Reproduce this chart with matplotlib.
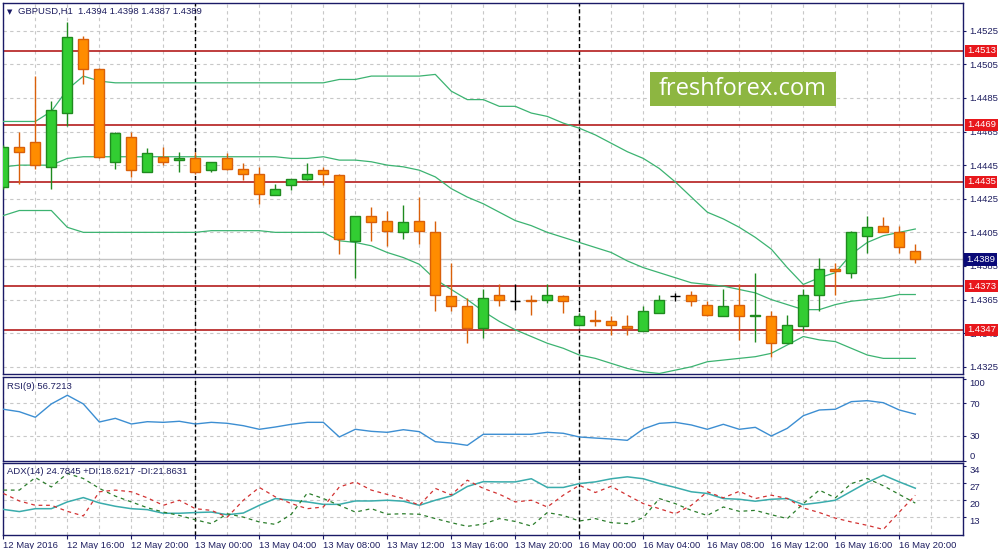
import matplotlib
matplotlib.use("Agg")
import matplotlib.pyplot as plt
import numpy as np
from matplotlib.patches import Rectangle

plt.rcParams['font.family'] = ['Liberation Sans', 'DejaVu Sans']

# ---------------- data ----------------
symbol = "GBPUSD,H1"
opens = [1.4432, 1.4456, 1.4459, 1.4444, 1.4476, 1.4520, 1.4502, 1.4447, 1.4462, 1.4441,
         1.4450, 1.4448, 1.4449, 1.4442, 1.4449, 1.4443, 1.4440, 1.4427, 1.4433, 1.4437,
         1.4442, 1.4439, 1.4400, 1.4415, 1.4412, 1.4405, 1.4412, 1.4405, 1.4367, 1.4361,
         1.4348, 1.4368, 1.4364, 1.4365, 1.4365, 1.4367, 1.4350, 1.4353, 1.4352, 1.4349,
         1.4346, 1.4357, 1.4367, 1.4368, 1.4362, 1.4355, 1.4362, 1.4355, 1.4355, 1.4339,
         1.4349, 1.4368, 1.4383, 1.4381, 1.4403, 1.4409, 1.4405, 1.4394]
highs = [1.4457, 1.4465, 1.4498, 1.4483, 1.4530, 1.4522, 1.4503, 1.4465, 1.4465, 1.4455,
         1.4456, 1.4453, 1.4453, 1.4447, 1.4452, 1.4446, 1.4444, 1.4434, 1.4437, 1.4446,
         1.4444, 1.4440, 1.4415, 1.4420, 1.4418, 1.4421, 1.4426, 1.4412, 1.4387, 1.4366,
         1.4371, 1.4374, 1.4374, 1.4368, 1.4374, 1.4368, 1.4357, 1.4359, 1.4355, 1.4356,
         1.4361, 1.4368, 1.4369, 1.4370, 1.4364, 1.4371, 1.4374, 1.4381, 1.4358, 1.4356,
         1.4371, 1.4390, 1.4387, 1.4406, 1.4415, 1.4414, 1.4409, 1.4398]
lows = [1.4431, 1.4434, 1.4443, 1.4431, 1.4468, 1.4493, 1.4449, 1.4443, 1.4438, 1.4441,
        1.4445, 1.4441, 1.4440, 1.4441, 1.4442, 1.4436, 1.4422, 1.4427, 1.4430, 1.4436,
        1.4433, 1.4392, 1.4378, 1.4400, 1.4397, 1.4401, 1.4398, 1.4358, 1.4358, 1.4339,
        1.4342, 1.4361, 1.4359, 1.4356, 1.4363, 1.4357, 1.4350, 1.4349, 1.4344, 1.4344,
        1.4346, 1.4357, 1.4364, 1.4361, 1.4355, 1.4355, 1.4341, 1.4340, 1.4331, 1.4339,
        1.4346, 1.4358, 1.4368, 1.4378, 1.4393, 1.4405, 1.4393, 1.4387]
closes = [1.4456, 1.4453, 1.4445, 1.4478, 1.4521, 1.4502, 1.4450, 1.4464, 1.4442, 1.4452,
          1.4447, 1.4449, 1.4441, 1.4447, 1.4443, 1.4440, 1.4428, 1.4431, 1.4437, 1.4440,
          1.4440, 1.4401, 1.4415, 1.4411, 1.4406, 1.4411, 1.4406, 1.4368, 1.4361, 1.4348,
          1.4366, 1.4365, 1.4364, 1.4364, 1.4368, 1.4364, 1.4355, 1.4352, 1.4350, 1.4348,
          1.4358, 1.4365, 1.4367, 1.4364, 1.4356, 1.4361, 1.4355, 1.4356, 1.4339, 1.4350,
          1.4368, 1.4383, 1.4382, 1.4405, 1.4408, 1.4405, 1.4396, 1.4389]

bb_upper = [1.4471, 1.4471, 1.4471, 1.4477, 1.4490, 1.4498, 1.4495, 1.4494, 1.4494, 1.4494,
            1.4494, 1.4494, 1.4494, 1.4494, 1.4494, 1.4494, 1.4494, 1.4494, 1.4494, 1.4494,
            1.4494, 1.4496, 1.4496, 1.4498, 1.4498, 1.4498, 1.4498, 1.4499, 1.4489, 1.4484,
            1.4484, 1.4480, 1.4480, 1.4476, 1.4474, 1.4470, 1.4467, 1.4463, 1.4458, 1.4453,
            1.4449, 1.4443, 1.4435, 1.4426, 1.4417, 1.4413, 1.4408, 1.4402, 1.4395, 1.4384,
            1.4374, 1.4378, 1.4381, 1.4392, 1.4399, 1.4403, 1.4405, 1.4407]
bb_middle = [1.4444, 1.4445, 1.4445, 1.4445, 1.4449, 1.4450, 1.4450, 1.4450, 1.4450, 1.4450,
             1.4450, 1.4450, 1.4450, 1.4450, 1.4450, 1.4450, 1.4450, 1.4450, 1.4449, 1.4449,
             1.4450, 1.4448, 1.4448, 1.4447, 1.4445, 1.4444, 1.4442, 1.4438, 1.4431, 1.4426,
             1.4422, 1.4417, 1.4412, 1.4409, 1.4405, 1.4402, 1.4399, 1.4396, 1.4393, 1.4388,
             1.4384, 1.4381, 1.4378, 1.4375, 1.4374, 1.4373, 1.4371, 1.4369, 1.4365, 1.4362,
             1.4359, 1.4359, 1.4362, 1.4364, 1.4365, 1.4366, 1.4368, 1.4368]
bb_lower = [1.4415, 1.4418, 1.4418, 1.4418, 1.4408, 1.4405, 1.4405, 1.4405, 1.4405, 1.4405,
            1.4405, 1.4405, 1.4405, 1.4406, 1.4406, 1.4406, 1.4406, 1.4405, 1.4405, 1.4405,
            1.4405, 1.4400, 1.4399, 1.4397, 1.4393, 1.4390, 1.4386, 1.4377, 1.4371, 1.4365,
            1.4358, 1.4352, 1.4347, 1.4343, 1.4339, 1.4336, 1.4332, 1.4330, 1.4327, 1.4324,
            1.4322, 1.4321, 1.4323, 1.4325, 1.4328, 1.4329, 1.4330, 1.4331, 1.4333, 1.4338,
            1.4343, 1.4341, 1.4340, 1.4336, 1.4332, 1.4330, 1.4330, 1.4330]

levels = [1.4513, 1.4469, 1.4435, 1.4373, 1.4347]

rsi = [62.7, 59.7, 52.9, 69.2, 79.8, 69.2, 47.1, 51.6, 44.7, 47.5,
       46.7, 48.0, 44.7, 46.7, 45.5, 42.6, 38.2, 41.0, 44.3, 46.7,
       46.7, 28.8, 38.2, 35.7, 34.5, 37.7, 35.3, 23.0, 21.4, 18.6,
       32.1, 32.1, 32.1, 32.1, 34.5, 33.3, 28.8, 27.5, 26.3, 24.7,
       38.6, 45.5, 46.7, 43.5, 38.2, 44.3, 38.2, 40.6, 30.0, 39.4,
       54.8, 61.8, 62.7, 72.0, 73.2, 70.7, 61.8, 56.72]
rsi_levels = [70, 30]
rsi_ticks = [100, 70, 30, 0]

adx = [16.0, 15.1, 16.3, 16.3, 19.1, 20.9, 18.7, 17.3, 16.3, 15.9,
       14.4, 14.4, 14.7, 14.9, 13.8, 14.5, 17.7, 20.5, 19.8, 19.1,
       18.1, 18.1, 19.5, 19.5, 19.8, 19.4, 17.7, 19.8, 21.6, 25.5,
       27.5, 27.4, 27.4, 28.7, 25.1, 25.1, 26.7, 27.4, 28.7, 29.5,
       28.7, 26.7, 25.1, 23.3, 22.6, 20.5, 20.2, 19.4, 20.2, 20.5,
       18.0, 18.8, 19.8, 23.5, 27.2, 30.2, 27.4, 24.78]
plus_di = [24.0, 24.0, 29.2, 25.3, 30.9, 28.8, 24.7, 21.5, 19.1, 16.7,
           14.9, 13.5, 11.7, 10.1, 14.2, 12.8, 10.8, 9.8, 14.0, 22.8,
           20.5, 17.7, 14.9, 16.3, 14.0, 14.2, 14.0, 12.2, 10.5, 9.0,
           9.9, 12.2, 11.0, 9.1, 14.7, 13.5, 11.2, 12.2, 10.5, 10.1,
           12.6, 20.5, 18.4, 15.6, 13.5, 17.0, 15.2, 15.6, 13.8, 12.2,
           18.4, 24.0, 20.8, 26.7, 28.8, 25.8, 22.2, 18.62]
minus_di = [22.6, 19.5, 17.7, 17.7, 15.2, 13.3, 23.3, 24.0, 23.3, 20.8,
            17.7, 19.8, 16.3, 15.6, 12.8, 19.8, 25.1, 21.2, 18.4, 16.3,
            17.0, 25.3, 27.4, 24.0, 22.2, 20.5, 17.7, 24.7, 22.0, 28.1,
            24.7, 22.3, 19.1, 19.8, 17.0, 21.9, 26.0, 23.0, 25.6, 21.9,
            18.4, 16.3, 14.2, 17.7, 23.3, 20.8, 23.5, 20.5, 21.9, 20.5,
            16.6, 14.7, 12.4, 10.8, 9.4, 7.7, 14.9, 21.86]
adx_ticks = [34, 27, 20, 13]

price_ticks = [1.4525, 1.4505, 1.4485, 1.4465, 1.4445, 1.4425, 1.4405, 1.4385, 1.4365, 1.4345, 1.4325]
xtick_bars = [0, 4, 8, 12, 16, 20, 24, 28, 32, 36, 40, 44, 48, 52, 56]
xtick_labels = ['12 May 2016', '12 May 16:00', '12 May 20:00', '13 May 00:00', '13 May 04:00',
                '13 May 08:00', '13 May 12:00', '13 May 16:00', '13 May 20:00', '16 May 00:00',
                '16 May 04:00', '16 May 08:00', '16 May 12:00', '16 May 16:00', '16 May 20:00']
day_separators = [12, 36]
rsi_label = "RSI(9) 56.7213"
adx_label = "ADX(14) 24.7845 +DI:18.6217 -DI:21.8631"
watermark = "freshforex.com"

# ---------------- style ----------------
NAVY = '#1a1a66'
TXT = '#1e1e60'
GRID = '#c8c8c8'
FS = 6.8
BULL_F, BULL_E = '#32cd32', '#1f8a1f'
BEAR_F, BEAR_E = '#ff8c00', '#d9600a'

W, H = 1005, 549
fig = plt.figure(figsize=(W / 100, H / 100), dpi=100)
fig.patch.set_facecolor('white')


def box(l, t, r, b):
    return [l / W, 1 - b / H, (r - l) / W, (b - t) / H]


ax = fig.add_axes(box(2.7, 3, 963.3, 374))
ax_r = fig.add_axes(box(2.7, 376.7, 963.3, 460.7), sharex=ax)
ax_a = fig.add_axes(box(2.7, 463.3, 963.3, 535), sharex=ax)

n = len(opens)
x = np.arange(n)
o, h, l, c = (np.array(v) for v in (opens, highs, lows, closes))

for a in (ax, ax_r, ax_a):
    for s in a.spines.values():
        s.set_color(NAVY)
        s.set_linewidth(1.0)
    a.yaxis.tick_right()
    a.tick_params(axis='y', direction='out', length=2.2, width=0.8, color=NAVY,
                  labelsize=FS, labelcolor=TXT, pad=2.2)
    a.set_xticks(np.arange(0, 61, 2), minor=True)
    a.grid(axis='x', which='both', color=GRID, ls=(0, (3, 3)), lw=0.8)
    a.set_axisbelow(True)
    for s in day_separators:
        a.axvline(s, color='black', ls=(0, (3, 2)), lw=1.0, zorder=2)

ax.set_xticks(xtick_bars)
ax.set_xlim(-0.04, 60.0)
for a in (ax, ax_r):
    a.tick_params(axis='x', which='both', length=0, labelbottom=False)
ax_a.tick_params(axis='x', which='minor', length=0)
ax_a.tick_params(axis='x', which='major', direction='out', length=3, width=0.8, color=NAVY,
                 labelsize=FS, labelcolor=TXT, pad=1.5)
ax_a.set_xticklabels(xtick_labels)
for t in ax_a.get_xticklabels():
    t.set_ha('left')

# ---------------- main panel ----------------
ax.set_ylim(1.43207, 1.45415)
ax.set_yticks(price_ticks)
ax.set_yticklabels([f"{p:.4f}" for p in price_ticks])
ax.grid(axis='y', which='major', color=GRID, ls=(0, (3, 3)), lw=0.8)

ax.axhline(closes[-1], color='#c4c4c4', lw=1.0, zorder=1.5)
for lv in levels:
    ax.axhline(lv, color='#b41c1c', lw=1.2, zorder=2.5)

for band in (bb_upper, bb_middle, bb_lower):
    ax.plot(x, band, color='#3cb371', lw=0.9, zorder=2.6)

up = c > o
dn = c < o
eq = c == o
bw = 0.62
ax.vlines(x[up], l[up], h[up], color=BULL_E, lw=1.0, zorder=3)
ax.vlines(x[dn], l[dn], h[dn], color=BEAR_E, lw=1.0, zorder=3)
ax.vlines(x[eq], l[eq], h[eq], color='black', lw=1.0, zorder=3)
ax.bar(x[up], c[up] - o[up], bottom=o[up], width=bw, color=BULL_F, edgecolor=BULL_E,
       linewidth=1.0, zorder=4)
ax.bar(x[dn], o[dn] - c[dn], bottom=c[dn], width=bw, color=BEAR_F, edgecolor=BEAR_E,
       linewidth=1.0, zorder=4)
ax.hlines(c[eq], x[eq] - bw / 2, x[eq] + bw / 2, color='black', lw=1.0, zorder=4)

# header
ax.annotate('\u25bc', xy=(0, 1), xycoords='axes fraction', xytext=(3.2, -6.3),
            textcoords='offset points', fontsize=5, color=NAVY, va='center', ha='left',
            family=['DejaVu Sans'])
ax.annotate(f"{symbol}  {opens[-1]:.4f} {highs[-1]:.4f} {lows[-1]:.4f} {closes[-1]:.4f}",
            xy=(0, 1), xycoords='axes fraction', xytext=(11, -6.3), textcoords='offset points',
            fontsize=FS, color=TXT, va='center', ha='left')

# level price boxes
for lv in levels:
    ax.annotate(f"{lv:.4f}", xy=(1, lv), xycoords=('axes fraction', 'data'), xytext=(2.6, 0),
                textcoords='offset points', fontsize=FS, color='white', va='center', ha='left',
                bbox=dict(boxstyle='square,pad=0.18', fc='#e8171c', ec='none'),
                annotation_clip=False, zorder=10)
ax.annotate(f"{closes[-1]:.4f}", xy=(1, closes[-1]), xycoords=('axes fraction', 'data'),
            xytext=(2.2, 0), textcoords='offset points', fontsize=FS, color='white', va='center',
            ha='left', bbox=dict(boxstyle='square,pad=0.22', fc='#0a0a78', ec='none'),
            annotation_clip=False, zorder=10)

# watermark
ax.add_patch(Rectangle((0.6738, 0.7224), 0.1937, 0.0917, transform=ax.transAxes,
                       fc='#8db641', ec='none', zorder=8))
ax.text(0.7707, 0.7675, watermark, transform=ax.transAxes, ha='center', va='center',
        fontsize=17, color='white', family=['Open Sans', 'DejaVu Sans'], zorder=9)

# ---------------- RSI panel ----------------
ax_r.plot(x, rsi, color='#3c8ed2', lw=1.0, zorder=3)
ax_r.set_ylim(-0.2, 102.5)
ax_r.set_yticks(rsi_ticks)
ax_r.set_yticklabels([str(t) for t in rsi_ticks])
for t, lab in zip(rsi_ticks, ax_r.get_yticklabels()):
    if t == max(rsi_ticks):
        lab.set_va('top')
    elif t == min(rsi_ticks):
        lab.set_va('bottom')
for lv in rsi_levels:
    ax_r.axhline(lv, color=GRID, ls=(0, (3, 3)), lw=0.8, zorder=1)
ax_r.annotate(rsi_label, xy=(0, 1), xycoords='axes fraction', xytext=(3.2, -6.8),
              textcoords='offset points', fontsize=FS, color=TXT, va='center', ha='left')

# ---------------- ADX panel ----------------
ax_a.plot(x, adx, color='#3aacac', lw=1.1, zorder=3)
ax_a.plot(x, plus_di, color='#2b7d2b', lw=0.9, ls=(0, (3, 3)), zorder=3)
ax_a.plot(x, minus_di, color='#d23232', lw=0.9, ls=(0, (3, 3)), zorder=3)
ax_a.set_ylim(5.4, 35.1)
ax_a.set_yticks(adx_ticks)
ax_a.set_yticklabels([str(t) for t in adx_ticks])
for lab in ax_a.get_yticklabels():
    lab.set_va('top')
for t in adx_ticks[1:]:
    ax_a.axhline(t, color=GRID, ls=(0, (3, 3)), lw=0.8, zorder=1)
ax_a.annotate(adx_label, xy=(0, 1), xycoords='axes fraction', xytext=(3.2, -6.0),
              textcoords='offset points', fontsize=FS, color=TXT, va='center', ha='left')

fig.savefig('out.png', dpi=100, facecolor='white')
